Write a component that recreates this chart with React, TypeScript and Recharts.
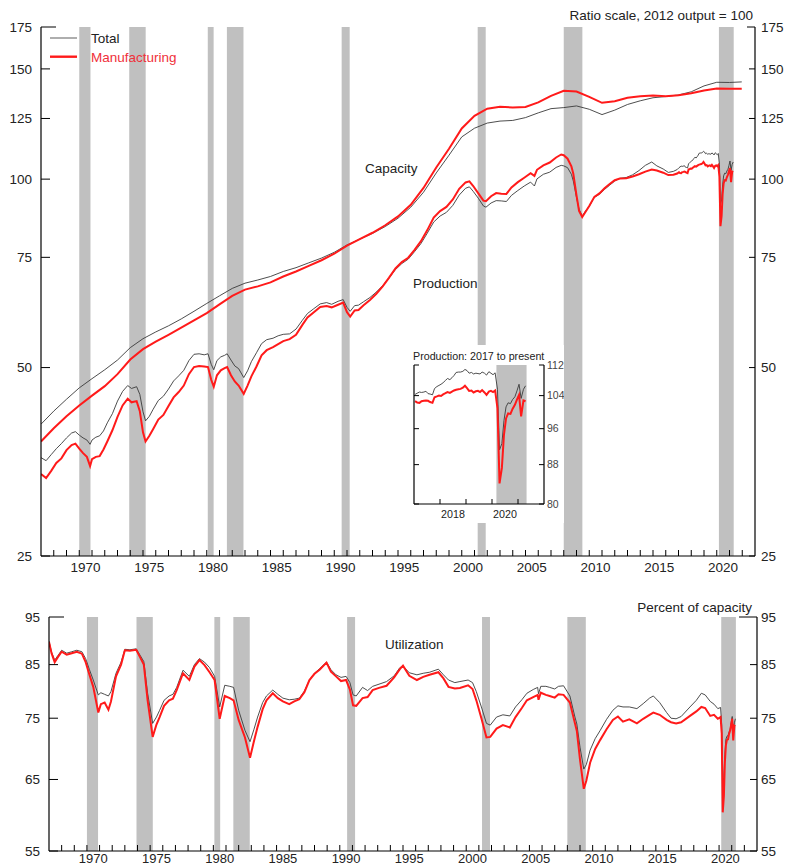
import React from 'react';
import { LineChart, Line, XAxis, YAxis, ReferenceArea } from 'recharts';

const FONT = '"Liberation Sans", Arial, Helvetica, sans-serif';
const TOTAL_COLOR = '#3a3a3a';
const MFG_COLOR = '#ff1a1a';
const SHADE = '#c0c0c0';

// recession shading (month after peak through trough)
const recessions: [number, number][] = [
  [1970.0, 1970.88], [1973.92, 1975.21], [1980.08, 1980.54], [1981.58, 1982.88],
  [1990.58, 1991.21], [2001.25, 2001.88], [2008.0, 2009.46], [2020.17, 2021.33],
];

const labelYears = [1970, 1975, 1980, 1985, 1990, 1995, 2000, 2005, 2010, 2015, 2020];
const insetLabelYears = [2018, 2020];
const ratioTicks = [25, 50, 75, 100, 125, 150, 175];
const insetTicks = [80, 88, 96, 104, 112];
const utilTicks = [55, 65, 75, 85, 95];

// [year, total, manufacturing], 2012 output = 100
const capacity: [number, number, number][] = [
  [1967.0, 40.6, 38.1], [1968.0, 42.6, 40.0], [1969.0, 44.5, 41.8], [1970.0, 46.4, 43.5],
  [1971.0, 48.0, 45.1], [1972.0, 49.6, 46.7], [1973.0, 51.4, 48.8], [1974.0, 53.8, 51.5],
  [1975.0, 55.6, 53.5], [1976.0, 57.0, 55.0], [1977.0, 58.3, 56.4], [1978.0, 59.8, 57.9],
  [1979.0, 61.5, 59.5], [1980.0, 63.3, 61.1], [1981.0, 65.1, 63.1], [1982.0, 66.9, 65.1],
  [1983.0, 68.2, 66.6], [1984.0, 69.0, 67.4], [1985.0, 69.9, 68.4], [1986.0, 71.2, 69.9],
  [1987.0, 72.2, 71.2], [1988.0, 73.5, 72.7], [1989.0, 74.8, 74.2], [1990.0, 76.4, 76.0],
  [1991.0, 78.5, 78.3], [1992.0, 80.2, 80.2], [1993.0, 81.9, 82.1], [1994.0, 84.0, 84.4],
  [1995.0, 86.6, 87.2], [1996.0, 90.2, 91.0], [1997.0, 95.3, 96.8], [1998.0, 102.3, 104.4],
  [1999.0, 109.2, 111.8], [2000.0, 116.8, 120.5], [2001.0, 120.6, 126.2], [2002.0, 122.9, 129.6],
  [2003.0, 123.8, 130.5], [2004.0, 124.1, 130.2], [2005.0, 125.4, 130.4], [2006.0, 127.6, 132.6],
  [2007.0, 129.6, 135.8], [2008.0, 130.1, 138.4], [2009.0, 130.9, 138.0], [2010.0, 129.3, 135.3],
  [2011.0, 126.8, 132.4], [2012.0, 128.9, 133.2], [2013.0, 131.6, 134.9], [2014.0, 133.4, 135.6],
  [2015.0, 134.9, 136.0], [2016.0, 135.5, 135.7], [2017.0, 136.3, 136.1], [2018.0, 137.9, 137.1],
  [2019.0, 140.9, 138.5], [2020.0, 142.8, 139.6], [2021.0, 142.7, 139.4], [2021.96, 143.0, 139.5],
];

const production: [number, number, number][] = [
  [1967.0, 35.9, 33.8], [1967.4, 35.5, 33.3], [1967.8, 36.3, 34.2], [1968.2, 37.1, 35.2],
  [1968.6, 37.8, 35.8], [1969.0, 38.6, 36.9], [1969.4, 39.3, 37.6], [1969.7, 39.5, 37.8],
  [1970.0, 39.0, 37.1], [1970.3, 38.6, 36.5], [1970.6, 38.3, 36.0], [1970.85, 37.7, 34.8],
  [1971.0, 38.3, 35.7], [1971.3, 38.7, 36.0], [1971.6, 38.9, 36.1], [1971.9, 39.6, 37.0],
  [1972.2, 40.8, 38.1], [1972.6, 42.2, 39.7], [1973.0, 44.2, 41.7], [1973.4, 45.8, 43.5],
  [1973.8, 46.8, 44.6], [1974.1, 46.3, 44.0], [1974.5, 46.6, 44.2], [1974.75, 45.3, 42.6],
  [1975.0, 42.5, 39.4], [1975.2, 41.1, 38.1], [1975.5, 41.8, 38.9], [1975.8, 42.9, 39.9],
  [1976.2, 44.3, 41.3], [1976.6, 45.0, 42.0], [1977.0, 46.2, 43.4], [1977.4, 47.6, 44.8],
  [1977.8, 48.5, 45.7], [1978.2, 49.5, 46.8], [1978.6, 51.3, 48.8], [1979.0, 52.5, 50.1],
  [1979.4, 52.6, 50.3], [1979.8, 52.4, 50.2], [1980.1, 52.6, 50.1], [1980.35, 50.6, 47.8],
  [1980.55, 49.6, 46.6], [1980.8, 51.3, 48.6], [1981.1, 52.0, 49.5], [1981.4, 52.3, 49.9],
  [1981.6, 52.6, 50.1], [1981.9, 51.4, 48.6], [1982.2, 50.3, 47.5], [1982.5, 49.8, 46.8],
  [1982.9, 48.2, 45.4], [1983.2, 49.4, 46.8], [1983.5, 51.1, 48.4], [1983.9, 52.8, 50.2],
  [1984.3, 54.6, 52.3], [1984.7, 55.4, 53.3], [1985.2, 55.7, 53.9], [1985.6, 56.2, 54.5],
  [1986.0, 56.5, 55.1], [1986.5, 56.6, 55.5], [1987.0, 57.6, 56.4], [1987.5, 59.5, 58.5],
  [1987.9, 61.0, 60.1], [1988.4, 62.1, 61.3], [1988.9, 63.2, 62.5], [1989.4, 63.5, 62.7],
  [1989.8, 63.1, 62.4], [1990.3, 63.8, 63.0], [1990.7, 64.2, 63.5], [1991.0, 62.4, 61.3],
  [1991.25, 61.5, 60.3], [1991.6, 62.8, 61.7], [1991.9, 62.9, 61.8], [1992.3, 63.7, 62.9],
  [1992.8, 64.7, 64.1], [1993.3, 66.0, 65.6], [1993.8, 67.6, 67.4], [1994.3, 69.5, 69.6],
  [1994.8, 71.7, 72.0], [1995.3, 73.3, 73.7], [1995.8, 74.5, 74.9], [1996.3, 76.6, 77.1],
  [1996.8, 78.9, 79.6], [1997.3, 82.0, 82.9], [1997.8, 85.4, 86.8], [1998.3, 87.3, 88.9],
  [1998.8, 88.5, 90.3], [1999.3, 90.8, 92.8], [1999.8, 94.3, 96.5], [2000.3, 96.7, 98.8],
  [2000.6, 97.2, 99.2], [2000.9, 95.6, 97.5], [2001.3, 93.2, 94.9], [2001.7, 90.6, 92.4],
  [2001.9, 90.2, 92.2], [2002.3, 91.6, 93.9], [2002.7, 92.4, 95.0], [2003.1, 92.3, 94.8],
  [2003.5, 92.1, 94.7], [2003.9, 94.2, 97.0], [2004.4, 95.9, 98.9], [2004.9, 97.5, 100.5],
  [2005.4, 98.9, 102.2], [2005.7, 97.5, 101.2], [2005.9, 100.1, 103.5], [2006.4, 101.8, 105.2],
  [2006.9, 102.6, 106.3], [2007.4, 104.4, 108.3], [2007.8, 105.2, 109.5], [2008.0, 105.0, 109.2],
  [2008.3, 104.3, 107.8], [2008.6, 101.8, 104.8], [2008.75, 99.3, 102.0], [2009.0, 93.5, 94.2],
  [2009.2, 89.5, 89.0], [2009.45, 87.3, 87.0], [2009.7, 88.9, 88.6], [2010.0, 90.5, 90.6],
  [2010.4, 93.5, 93.7], [2010.8, 94.6, 94.9], [2011.2, 96.3, 96.7], [2011.6, 97.8, 98.2],
  [2012.0, 99.3, 99.6], [2012.4, 100.3, 100.2], [2012.9, 100.6, 100.3], [2013.4, 101.6, 101.0],
  [2013.9, 103.2, 101.8], [2014.4, 105.2, 102.8], [2014.9, 106.5, 103.6], [2015.3, 105.0, 103.2],
  [2015.8, 103.8, 102.4], [2016.2, 102.5, 101.5], [2016.6, 102.9, 101.6], [2016.9, 103.6, 102.1],
  [2017.04, 104.3, 102.6], [2017.12, 104.6, 102.3], [2017.21, 104.9, 102.2], [2017.29, 104.8, 102.6],
  [2017.38, 104.9, 102.7], [2017.46, 105.1, 102.8], [2017.54, 104.5, 102.7], [2017.62, 104.4, 102.4],
  [2017.71, 104.2, 102.2], [2017.79, 105.8, 103.6], [2017.88, 106.3, 103.8], [2017.96, 106.6, 104.0],
  [2018.04, 106.9, 103.9], [2018.12, 107.3, 104.3], [2018.21, 107.9, 104.6], [2018.29, 108.4, 104.9],
  [2018.38, 108.1, 104.7], [2018.46, 108.6, 105.0], [2018.54, 109.2, 105.3], [2018.62, 110.0, 105.5],
  [2018.71, 110.1, 105.6], [2018.79, 110.1, 105.7], [2018.88, 110.3, 106.0], [2018.96, 110.8, 106.5],
  [2019.04, 110.5, 105.9], [2019.12, 109.8, 105.2], [2019.21, 110.0, 105.3], [2019.29, 109.6, 104.8],
  [2019.38, 109.8, 105.1], [2019.46, 109.7, 105.2], [2019.54, 109.6, 104.9], [2019.62, 110.1, 105.4],
  [2019.71, 109.8, 104.8], [2019.79, 109.3, 104.2], [2019.88, 110.2, 105.0], [2019.96, 109.8, 105.2],
  [2020.04, 109.4, 104.9], [2020.12, 109.9, 105.3], [2020.21, 105.6, 100.9], [2020.29, 91.2, 84.1],
  [2020.38, 92.6, 87.3], [2020.46, 97.9, 94.6], [2020.54, 101.2, 98.4], [2020.62, 102.2, 99.6],
  [2020.71, 102.0, 99.5], [2020.79, 103.0, 100.7], [2020.88, 103.7, 101.7], [2020.96, 105.2, 103.0],
  [2021.04, 106.9, 104.2], [2021.12, 103.3, 98.9], [2021.21, 105.6, 102.8], [2021.29, 106.5, 102.6],
];

// [year, total, manufacturing], percent of capacity
const utilization: [number, number, number][] = [
  [1967.0, 89.8, 89.6], [1967.2, 87.5, 87.3], [1967.45, 85.9, 85.5], [1967.7, 86.8, 86.5],
  [1968.0, 87.9, 87.6], [1968.4, 87.3, 87.0], [1968.8, 87.6, 87.3], [1969.2, 87.9, 87.6],
  [1969.6, 87.6, 87.2], [1969.9, 86.2, 85.5], [1970.2, 84.0, 83.0], [1970.5, 82.0, 80.7],
  [1970.9, 79.2, 76.0], [1971.1, 79.6, 77.5], [1971.4, 79.3, 77.8], [1971.7, 79.0, 76.5],
  [1971.9, 79.8, 78.0], [1972.3, 83.3, 82.7], [1972.7, 85.5, 85.0], [1973.0, 88.1, 87.9],
  [1973.4, 88.0, 87.8], [1973.9, 88.2, 88.0], [1974.2, 86.9, 86.5], [1974.5, 85.6, 85.0],
  [1974.8, 79.5, 78.2], [1975.2, 74.1, 71.8], [1975.5, 75.2, 73.9], [1975.75, 76.4, 75.2],
  [1976.1, 78.2, 77.2], [1976.5, 79.0, 78.2], [1976.8, 79.3, 78.5], [1977.1, 80.6, 80.1],
  [1977.6, 83.9, 83.3], [1978.1, 82.7, 82.0], [1978.5, 85.0, 84.6], [1978.9, 86.2, 85.9],
  [1979.3, 85.5, 84.9], [1979.7, 84.4, 83.5], [1980.1, 82.7, 82.0], [1980.5, 77.0, 74.9],
  [1980.9, 81.0, 79.0], [1981.3, 80.8, 78.6], [1981.6, 80.6, 78.2], [1982.0, 76.4, 74.7],
  [1982.5, 72.9, 71.7], [1982.9, 71.0, 68.4], [1983.2, 73.0, 71.0], [1983.5, 75.2, 73.5],
  [1983.9, 77.8, 76.6], [1984.2, 79.0, 78.2], [1984.7, 80.1, 79.5], [1985.1, 79.3, 78.6],
  [1985.5, 78.6, 78.0], [1986.0, 78.3, 77.5], [1986.4, 78.4, 78.0], [1986.8, 78.6, 78.4],
  [1987.2, 79.9, 79.7], [1987.6, 82.0, 82.0], [1988.0, 83.3, 83.2], [1988.4, 84.2, 84.0],
  [1988.95, 85.5, 85.4], [1989.3, 84.0, 83.6], [1989.7, 83.0, 82.7], [1990.1, 82.5, 81.8],
  [1990.5, 82.7, 82.0], [1990.8, 81.5, 80.2], [1991.05, 79.2, 77.3], [1991.3, 79.0, 77.2],
  [1991.8, 80.6, 78.6], [1992.2, 80.0, 78.8], [1992.6, 80.8, 80.1], [1993.1, 81.2, 80.5],
  [1993.7, 81.7, 80.9], [1994.3, 82.8, 82.5], [1994.75, 84.4, 84.1], [1995.0, 84.7, 84.8],
  [1995.5, 83.4, 82.8], [1996.1, 83.0, 82.0], [1996.6, 83.3, 82.6], [1997.1, 83.5, 83.0],
  [1997.8, 84.1, 83.5], [1998.2, 83.0, 82.3], [1998.6, 82.0, 80.7], [1999.1, 81.5, 80.4],
  [1999.5, 81.7, 80.5], [2000.15, 82.0, 81.0], [2000.5, 81.5, 80.3], [2000.8, 79.8, 78.2],
  [2001.2, 77.0, 75.0], [2001.6, 74.1, 71.7], [2001.9, 73.8, 71.8], [2002.4, 75.2, 73.2],
  [2002.9, 75.6, 73.8], [2003.45, 75.4, 73.4], [2003.9, 77.0, 75.2], [2004.4, 78.3, 76.8],
  [2004.8, 79.5, 78.2], [2005.3, 80.2, 78.8], [2005.65, 80.6, 79.2], [2005.72, 79.4, 78.3],
  [2005.9, 80.8, 79.6], [2006.3, 80.8, 79.2], [2006.6, 80.6, 79.0], [2007.0, 80.3, 78.7],
  [2007.3, 80.8, 79.3], [2007.7, 80.9, 79.2], [2008.2, 79.0, 77.8], [2008.6, 75.2, 74.1],
  [2008.75, 74.0, 72.8], [2009.0, 70.1, 68.1], [2009.3, 66.6, 63.6], [2009.5, 67.3, 64.8],
  [2009.8, 69.6, 67.6], [2010.2, 71.5, 69.8], [2010.6, 72.9, 71.3], [2011.1, 74.8, 73.1],
  [2011.6, 76.4, 74.7], [2012.0, 77.2, 75.3], [2012.4, 77.0, 74.4], [2012.9, 77.0, 74.8],
  [2013.5, 76.7, 74.1], [2014.0, 77.6, 74.9], [2014.5, 78.6, 75.6], [2014.8, 79.0, 76.0],
  [2015.3, 77.8, 75.6], [2015.85, 76.0, 74.7], [2016.2, 75.0, 74.3], [2016.6, 74.9, 74.1],
  [2017.0, 75.3, 74.3], [2017.7, 77.0, 75.4], [2018.2, 78.2, 76.2], [2018.6, 79.5, 77.0],
  [2018.9, 79.2, 76.8], [2019.3, 78.0, 75.4], [2019.6, 77.5, 75.6], [2019.9, 76.7, 74.9],
  [2020.12, 76.9, 75.2], [2020.21, 73.8, 72.4], [2020.29, 64.3, 60.2], [2020.38, 65.3, 62.5],
  [2020.46, 68.9, 67.7], [2020.54, 71.4, 70.4], [2020.62, 71.9, 71.3], [2020.71, 72.0, 71.4],
  [2020.79, 72.6, 72.3], [2020.88, 73.1, 72.9], [2020.96, 74.3, 73.9], [2021.04, 75.3, 74.9],
  [2021.12, 72.7, 71.2], [2021.21, 74.2, 73.7], [2021.29, 74.9, 73.6],
];

const toRows = (rows: [number, number, number][]) => rows.map(([t, total, mfg]) => ({ t, total, mfg }));
const capData = toRows(capacity);
const prodData = toRows(production);
const insetData = toRows(production.filter((r) => r[0] >= 2016.95));
const utilData = toRows(utilization);

const yearMarks = Array.from({ length: 55 }, (_, i) => 1968 + i);
const xTicks = [...yearMarks, ...labelYears.map((y) => y + 0.5)];
const insetXTicks = [2018, 2019, 2020, 2021, ...insetLabelYears.map((y) => y + 0.5)];

const XTick = (p: any) => {
  const v = p.payload.value;
  if (Number.isInteger(v)) {
    return <line x1={p.x} x2={p.x} y1={p.y} y2={p.y - p.len} stroke="#000" strokeWidth={1} />;
  }
  return (
    <text x={p.x} y={p.y + p.base} textAnchor="middle" fontSize={p.size} fill="#222" fontFamily={FONT}>
      {Math.floor(v)}
    </text>
  );
};

const YTick = (p: any) => {
  const v = p.payload.value;
  const dir = p.side === 'left' ? 1 : -1;
  const len = v === p.top ? p.topLen : p.len;
  return (
    <g>
      <line x1={p.x} x2={p.x + dir * len} y1={p.y} y2={p.y} stroke="#000" strokeWidth={1} />
      {p.labels && (
        <text x={p.x - dir * p.gap} y={p.y} dy="0.35em" textAnchor={p.side === 'left' ? 'end' : 'start'}
          fontSize={p.size} fill={p.color || '#222'} fontFamily={FONT}>
          {v}
        </text>
      )}
    </g>
  );
};

const axisLine = { stroke: '#000', strokeWidth: 1.2 };

const shading = (yAxisId: string) =>
  recessions.map(([a, b]) => (
    <ReferenceArea key={a} yAxisId={yAxisId} x1={a} x2={b} fill={SHADE} fillOpacity={1} stroke="none" />
  ));

const pair = (yAxisId: string, data: any[], thin = 0.9) => [
  <Line key="t" yAxisId={yAxisId} data={data} dataKey="total" stroke={TOTAL_COLOR} strokeWidth={thin}
    dot={false} activeDot={false} isAnimationActive={false} />,
  <Line key="m" yAxisId={yAxisId} data={data} dataKey="mfg" stroke={MFG_COLOR} strokeWidth={2}
    dot={false} activeDot={false} isAnimationActive={false} />,
];

export default function App() {
  return (
    <div style={{ position: 'absolute', left: 0, top: 0, width: 785, height: 866, background: '#fff', overflow: 'hidden' }}>
      {/* Top panel: capacity and production, ratio scale */}
      <div style={{ position: 'absolute', left: 0, top: 0 }}>
        <LineChart width={785} height={600} margin={{ top: 27, right: 0, bottom: 0, left: 0 }}>
          <XAxis type="number" dataKey="t" domain={[1967, 2023]} allowDataOverflow ticks={xTicks} interval={0}
            height={44} tickSize={0} tickMargin={0} tickLine={false} axisLine={axisLine}
            tick={(p: any) => <XTick {...p} len={6} base={15.5} size={13.5} />} />
          <YAxis yAxisId="l" orientation="left" width={41} type="number" scale="log" domain={[25, 175]}
            allowDataOverflow ticks={ratioTicks} interval={0} tickSize={0} tickMargin={0} tickLine={false}
            axisLine={axisLine}
            tick={(p: any) => <YTick {...p} side="left" len={9} top={175} topLen={15} gap={9} size={13.5} labels />} />
          <YAxis yAxisId="r" orientation="right" width={30} type="number" scale="log" domain={[25, 175]}
            allowDataOverflow ticks={ratioTicks} interval={0} tickSize={0} tickMargin={0} tickLine={false}
            axisLine={axisLine}
            tick={(p: any) => <YTick {...p} side="right" len={6} top={175} topLen={8} gap={6} size={13.5} labels />} />
          {shading('l')}
          {pair('l', capData)}
          {pair('l', prodData)}
        </LineChart>
      </div>

      {/* Inset: production 2017 to present */}
      <div style={{ position: 'absolute', left: 400, top: 345, width: 164, height: 178, background: '#fff' }}>
        <LineChart width={164} height={178} margin={{ top: 20, right: 0, bottom: 0, left: 0 }}>
          <XAxis type="number" dataKey="t" domain={[2017, 2022]} allowDataOverflow ticks={insetXTicks} interval={0}
            height={19} tickSize={0} tickMargin={0} tickLine={false} axisLine={axisLine}
            tick={(p: any) => <XTick {...p} len={5} base={13.5} size={10.7} />} />
          <YAxis yAxisId="l" orientation="left" width={14} type="number" scale="log" domain={[80, 112]}
            allowDataOverflow ticks={insetTicks} interval={0} tickSize={0} tickMargin={0} tickLine={false}
            axisLine={axisLine}
            tick={(p: any) => <YTick {...p} side="left" len={5} top={112} topLen={5} gap={3} size={10.5} />} />
          <YAxis yAxisId="r" orientation="right" width={20} type="number" scale="log" domain={[80, 112]}
            allowDataOverflow ticks={insetTicks} interval={0} tickSize={0} tickMargin={0} tickLine={false}
            axisLine={axisLine}
            tick={(p: any) => <YTick {...p} side="right" len={5} top={112} topLen={5} gap={3} size={10.5} color="#444" labels />} />
          {shading('l')}
          {pair('l', insetData)}
        </LineChart>
      </div>

      {/* Bottom panel: utilization */}
      <div style={{ position: 'absolute', left: 0, top: 600 }}>
        <LineChart width={785} height={266} margin={{ top: 17, right: 0, bottom: 0, left: 0 }}>
          <XAxis type="number" dataKey="t" domain={[1967, 2023]} allowDataOverflow ticks={xTicks} interval={0}
            height={15} tickSize={0} tickMargin={0} tickLine={false} axisLine={axisLine}
            tick={(p: any) => <XTick {...p} len={6} base={11.5} size={13} />} />
          <YAxis yAxisId="l" orientation="left" width={49} type="number" scale="log" domain={[55, 95]}
            allowDataOverflow ticks={utilTicks} interval={0} tickSize={0} tickMargin={0} tickLine={false}
            axisLine={axisLine}
            tick={(p: any) => <YTick {...p} side="left" len={9} top={95} topLen={15} gap={9} size={13.5} labels />} />
          <YAxis yAxisId="r" orientation="right" width={28} type="number" scale="log" domain={[55, 95]}
            allowDataOverflow ticks={utilTicks} interval={0} tickSize={0} tickMargin={0} tickLine={false}
            axisLine={axisLine}
            tick={(p: any) => <YTick {...p} side="right" len={7} top={95} topLen={18} gap={4} size={13.5} labels />} />
          {shading('l')}
          {pair('l', utilData)}
        </LineChart>
      </div>

      {/* Annotations */}
      <svg width={785} height={866} style={{ position: 'absolute', left: 0, top: 0, pointerEvents: 'none' }}
        fontFamily={FONT} fontSize={13.5} fill="#222">
        <text x={753} y={15} dy="0.36em" textAnchor="end">Ratio scale, 2012 output = 100</text>
        <line x1={50} x2={77} y1={38} y2={38} stroke="#9a9a9a" strokeWidth={1.6} />
        <text x={91} y={38} dy="0.36em">Total</text>
        <line x1={50} x2={77} y1={56.7} y2={56.7} stroke={MFG_COLOR} strokeWidth={2.4} />
        <text x={91} y={56.7} dy="0.36em" fill="#f0303a">Manufacturing</text>
        <text x={365} y={168} dy="0.36em">Capacity</text>
        <text x={413} y={283.3} dy="0.36em">Production</text>
        <text x={413} y={355.7} dy="0.36em" fontSize={10.7}>Production: 2017 to present</text>
        <text x={752} y={607.3} dy="0.36em" textAnchor="end">Percent of capacity</text>
        <text x={385} y={644} dy="0.36em">Utilization</text>
      </svg>
    </div>
  );
}
